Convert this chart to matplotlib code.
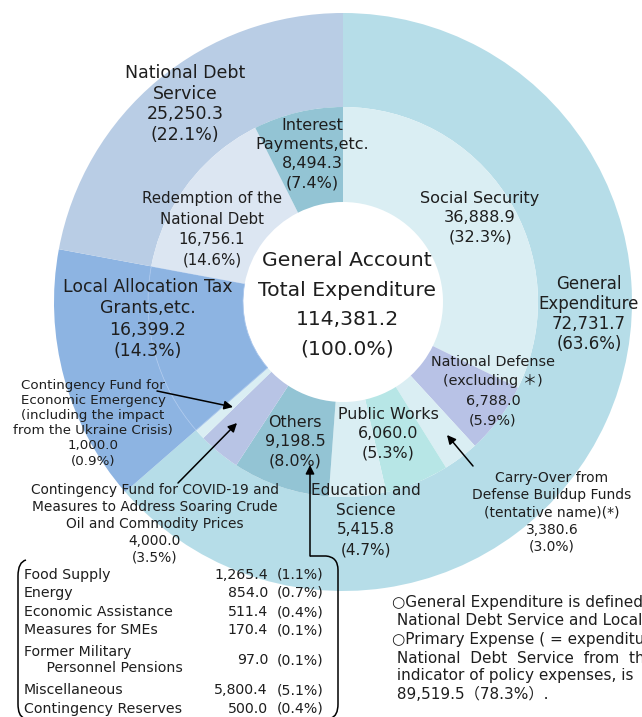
import matplotlib
matplotlib.use("Agg")
import matplotlib.pyplot as plt
from matplotlib.path import Path
from matplotlib.patches import PathPatch

plt.rcParams['font.family'] = ['DejaVu Sans', 'Noto Sans CJK JP']

W, H = 642, 717
TXT = '#1e1e1e'

# outer ring (clockwise from 12 o'clock)
outer_names = ['General\nExpenditure', 'Local Allocation Tax\nGrants,etc.', 'National Debt\nService']
outer_values = [72731.7, 16399.2, 25250.3]
outer_pcts = [63.6, 14.3, 22.1]
outer_colors = ['#b6dde8', '#8db4e2', '#b9cde5']

# inner ring (clockwise from 12 o'clock)
inner_names = ['Social Security', 'National Defense\n(excluding ＊)',
               'Carry-Over from\nDefense Buildup Funds\n(tentative name)(*)',
               'Public Works', 'Education and\nScience', 'Others',
               'Contingency Fund for COVID-19 and\nMeasures to Address Soaring Crude\nOil and Commodity Prices',
               'Contingency Fund for\nEconomic Emergency\n(including the impact\nfrom the Ukraine Crisis)',
               'Local Allocation Tax\nGrants,etc.', 'Redemption of the\nNational Debt',
               'Interest\nPayments,etc.']
inner_values = [36888.9, 6788.0, 3380.6, 6060.0, 5415.8, 9198.5, 4000.0, 1000.0,
                16399.2, 16756.1, 8494.3]
inner_pcts = [32.3, 5.9, 3.0, 5.3, 4.7, 8.0, 3.5, 0.9, 14.3, 14.6, 7.4]
inner_colors = ['#daeef3', '#b8c2e6', '#daeef3', '#b7e6e6', '#daeef3', '#93c4d4',
                '#b8c4e5', '#daeef3', '#8db4e2', '#dce6f2', '#93c4d4']

total_value = 114381.2

# breakdown of "Others"
table_items = ['Food Supply', 'Energy', 'Economic Assistance', 'Measures for SMEs',
               'Former Military\n     Personnel Pensions', 'Miscellaneous', 'Contingency Reserves']
table_values = [1265.4, 854.0, 511.4, 170.4, 97.0, 5800.4, 500.0]
table_pcts = [1.1, 0.7, 0.4, 0.1, 0.1, 5.1, 0.4]

notes = ("○General Expenditure is defined as expenditure excluding\n"
         " National Debt Service and Local Allocation Tax Grants, etc.\n"
         "○Primary Expense ( = expenditure excluding\n"
         " National  Debt  Service  from  the  total),  an\n"
         " indicator of policy expenses, is\n"
         " 89,519.5（78.3%）.")


def Y(y):
    return H - y


def lab(name, v, p):
    return f"{name}\n{v:,.1f}\n({p:.1f}%)"


fig = plt.figure(figsize=(W / 100, H / 100), dpi=100)
ax = fig.add_axes([0, 0, 1, 1])

cx, cy = 343, Y(302)
R1, R2, R3 = 289, 195, 100

ax.pie(outer_values, radius=R1, center=(cx, cy), startangle=90, counterclock=False,
       colors=outer_colors, wedgeprops=dict(width=R1 - R2, linewidth=0))
inner = ax.pie(inner_values, radius=R2, center=(cx, cy), startangle=90, counterclock=False,
               colors=inner_colors, wedgeprops=dict(width=R2 - R3, linewidth=0))
# faint seam on the local allocation wedge
inner[0][8].set_edgecolor('#a9c6ec')
inner[0][8].set_linewidth(0.6)

ax.set_xlim(0, W)
ax.set_ylim(0, H)
ax.set_aspect('equal')
ax.axis('off')

# outer labels
ax.text(589, Y(314), lab(outer_names[0], outer_values[0], outer_pcts[0]), ha='center', va='center',
        fontsize=12, linespacing=1.15, color=TXT)
ax.text(148, Y(319), lab(outer_names[1], outer_values[1], outer_pcts[1]), ha='center', va='center',
        fontsize=12.4, linespacing=1.22, color=TXT)
ax.text(185, Y(104), lab(outer_names[2], outer_values[2], outer_pcts[2]), ha='center', va='center',
        fontsize=12.5, linespacing=1.2, color=TXT)

# inner labels: (x, y, fontsize, linespacing)
inner_pos = [(480, 218, 11.6, 1.37), (493, 391, 10.4, 1.5), (552, 512.5, 10, 1.28),
             (388, 433.5, 11.4, 1.35), (366, 520, 11, 1.39), (295, 441.5, 11.4, 1.35),
             (155, 524, 9.9, 1.27), (93, 423, 9.6, 1.22), None,
             (212, 229.5, 10.8, 1.45), (312, 154, 11.5, 1.34)]
for i, pos in enumerate(inner_pos):
    if pos is None:
        continue
    x, y, fs, ls = pos
    ax.text(x, Y(y), lab(inner_names[i], inner_values[i], inner_pcts[i]), ha='center',
            va='center', fontsize=fs, linespacing=ls, color=TXT)

# centre
ax.text(347, Y(305), f"General Account\nTotal Expenditure\n{total_value:,.1f}\n(100.0%)",
        ha='center', va='center', fontsize=14.7, linespacing=1.7, color=TXT)

# arrows
arw = dict(arrowstyle='-|>', color='black', lw=1.1, mutation_scale=13, shrinkA=0, shrinkB=0)
ax.annotate('', xy=(233, Y(407)), xytext=(157, Y(391)), arrowprops=arw)
ax.annotate('', xy=(237, Y(423)), xytext=(178, Y(483)), arrowprops=arw)
ax.annotate('', xy=(447, Y(435)), xytext=(473, Y(466)), arrowprops=arw)
ax.annotate('', xy=(310, Y(465)), xytext=(310, Y(556)), arrowprops=arw)

# brackets around the "Others" breakdown
left = Path([(26, Y(560)), (18, Y(562)), (18, Y(576)), (18, Y(704)), (18, Y(716)), (24, Y(718))],
            [Path.MOVETO, Path.CURVE3, Path.CURVE3, Path.LINETO, Path.CURVE3, Path.CURVE3])
right = Path([(310, Y(556)), (326, Y(556)), (338, Y(557)), (338, Y(570)), (338, Y(704)),
              (338, Y(716)), (331, Y(718))],
             [Path.MOVETO, Path.LINETO, Path.CURVE3, Path.CURVE3, Path.LINETO, Path.CURVE3,
              Path.CURVE3])
for p in (left, right):
    ax.add_patch(PathPatch(p, fill=False, edgecolor='black', lw=1.1))

row_y = [575, 593, 612, 630, 660, 690, 709]
for name, v, p, y in zip(table_items, table_values, table_pcts, row_y):
    ax.text(24, Y(y), name, ha='left', va='center', fontsize=10.2, linespacing=1.15, color=TXT)
    ax.text(268, Y(y), f"{v:,.1f}", ha='right', va='center', fontsize=10.2, color=TXT)
    ax.text(277, Y(y), f"({p:.1f}%)", ha='left', va='center', fontsize=10.2, color=TXT)

ax.text(392, Y(595), notes, ha='left', va='top', fontsize=11, linespacing=1.28, color=TXT)

fig.savefig('out.png', dpi=100)
